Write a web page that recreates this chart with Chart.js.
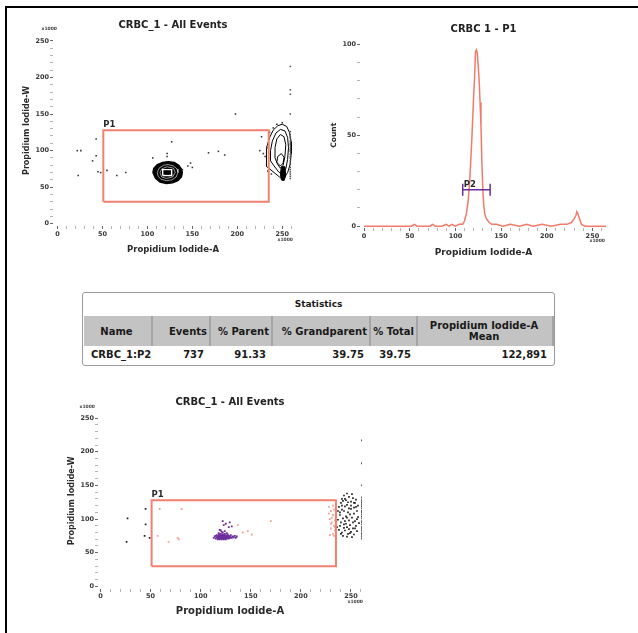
<!DOCTYPE html>
<html>
<head>
<meta charset="utf-8">
<script src="https://cdn.jsdelivr.net/npm/chart.js@4.4.1/dist/chart.umd.min.js"></script>
<style>
  html, body { margin: 0; padding: 0; background: #fff; }
  body { width: 638px; height: 633px; position: relative; overflow: hidden; font-family: 'DejaVu Sans', sans-serif; }
  #frame { position: absolute; left: 5px; top: 6px; width: 700px; height: 700px; border-left: 2px solid #000; border-top: 2px solid #000; }
  canvas { position: absolute; }
  #stats { position: absolute; left: 82px; top: 292px; width: 471px; height: 72px; border: 1px solid #9c9c9c; border-radius: 3px; background: #fff; color: #1a1a1a; font-weight: bold; }
  #stats .cap { height: 23px; line-height: 22px; text-align: center; font-size: 9px; }
  #stats table { border-collapse: collapse; table-layout: fixed; width: 469px; margin-left: 1px; }
  #stats th { background: #c3c3c3; height: 30px; font-size: 10px; line-height: 11px; border-right: 2px solid #a5a5a5; padding: 0 2px 0 0; text-align: right; white-space: nowrap; }
  #stats th.name { text-align: center; }
  #stats th.last { text-align: center; }
  #stats td { height: 17px; font-size: 10px; text-align: right; padding: 0 6px 0 0; white-space: nowrap; }
  #stats td.name { text-align: left; padding-left: 7px; }
</style>
</head>
<body>
<div id="frame"></div>
<canvas id="dotPlot" style="left:15px;top:12px" width="290" height="248"></canvas>
<canvas id="histPlot" style="left:325px;top:12px" width="295" height="248"></canvas>
<div id="stats"></div>
<canvas id="gatedPlot" style="left:60px;top:392px" width="315" height="232"></canvas>
<script>
const axisTicks = [0, 10, 20, 30, 40, 50, 60, 70, 80, 90, 100, 110, 120, 130, 140, 150, 160, 170, 180, 190, 200, 210, 220, 230, 240, 250, 260];
const axisLabels = [0, 50, 100, 150, 200, 250];
const countTicks = [0, 10, 20, 30, 40, 50, 60, 70, 80, 90, 100];
const countLabels = [0, 50, 100];

// Gates
const p1Gate = { xMin: 51, xMax: 235, yMin: 30, yMax: 128 };
const p2Gate = { xMin: 108, xMax: 138, level: 20 };

// Histogramm CRBC 1 - P1
const histX = [0, 20, 40, 52, 55, 58, 65, 72, 75, 78, 85, 90, 93, 96, 100, 104, 106, 108, 110, 112, 114, 116, 118, 119, 120, 121, 122, 123, 124, 125, 126, 127, 128, 129, 130, 131, 132, 134, 137, 140, 145, 152, 160, 170, 178, 185, 195, 205, 215, 222, 227, 230, 232, 233, 234, 236, 238, 242, 250, 265];
const histCount = [0, 0, 0, 0, 1, 0, 0, 0, 1, 0, 0, 1, 0, 1, 0, 1, 1, 1, 3, 7, 14, 28, 48, 60, 72, 82, 96, 97, 95, 88, 80, 68, 55, 35, 20, 12, 7, 4, 2, 1, 1, 0, 1, 0, 1, 0, 1, 0, 1, 1, 2, 4, 6, 8, 7, 4, 1, 0, 0, 0];

// Dot plot (oben links): Einzelereignisse
const dotOutliers = [[22, 100], [26, 100], [23, 66], [43, 116], [39, 86], [43, 93], [45, 71], [48, 70], [55, 73], [66, 66], [76, 70], [106, 90], [122, 96], [122, 92], [127, 112], [139, 74], [145, 79], [148, 83], [150, 77], [168, 97], [179, 99], [186, 94], [198, 150], [227, 119], [225, 100], [229, 96], [231, 92], [233, 104], [236, 125], [240, 131], [244, 136], [250, 138], [234, 72], [238, 68]];
const dotEdgeY = [62, 65, 68, 71, 74, 77, 81, 83, 86, 90, 92, 95, 99, 101, 104, 108, 110, 113, 117, 119, 122, 126, 150, 177, 183, 215];
const dotEdgeX = 259;

// Konturen
const coreBlob = [[106, 70], [107, 76], [111, 81], [117, 84], [123, 85], [130, 84], [135, 80], [138, 75], [139, 70], [138, 64], [134, 59], [128, 56], [121, 55], [114, 57], [109, 62], [106, 70]];
const coreRingA = [[111, 70], [113, 76], [118, 80], [123, 81], [129, 79], [133, 75], [134, 70], [132, 64], [127, 60], [121, 59], [115, 61], [112, 65], [111, 70]];
const coreRingB = [[114, 70], [116, 75], [122, 78], [129, 76], [131, 70], [128, 64], [121, 62], [116, 64], [114, 70]];
const coreBox = [[117, 66], [117, 74], [127, 74], [127, 66], [117, 66]];
const coreDot = [[120, 68], [120, 72], [124, 72], [124, 68], [120, 68]];
const edgeC1 = [[233, 78], [232, 90], [233, 104], [236, 118], [240, 128], [245, 134], [250, 136], [255, 133], [258, 125], [260, 112], [260, 96], [259, 82], [256, 70], [252, 63], [247, 64], [241, 70], [236, 75], [233, 78]];
const edgeC2 = [[237, 86], [237, 100], [239, 113], [243, 124], [248, 129], [253, 127], [256, 118], [257, 104], [256, 88], [254, 75], [250, 68], [246, 71], [241, 79], [237, 86]];
const edgeC3 = [[242, 90], [242, 104], [244, 116], [248, 122], [252, 119], [254, 108], [253, 92], [251, 80], [248, 76], [245, 81], [242, 90]];
const edgeC4 = [[244, 84], [245, 92], [249, 96], [252, 91], [251, 83], [248, 79], [244, 84]];
const edgeTail = [[249, 78], [253, 78], [254, 66], [252, 59], [249, 60], [248, 68], [249, 78]];

// Gated plot (unten): schwarz = ausserhalb P1, rosa = P1, violett = P2
const gatedBlack = [[27, 101], [26, 66], [45, 115], [45, 92], [44, 75], [49, 72],
  [238, 118], [240, 124], [241, 130], [243, 135], [245, 128], [246, 121], [248, 133], [250, 126], [252, 131], [254, 124], [255, 118], [243, 112], [247, 110], [250, 115], [253, 108], [256, 112], [239, 106], [242, 101], [245, 104], [248, 98], [251, 102], [254, 97], [257, 103], [240, 95], [243, 92], [246, 88], [249, 91], [252, 86], [255, 90], [238, 84], [241, 80], [244, 83], [247, 78], [250, 81], [253, 77], [256, 82], [242, 75], [246, 74], [251, 73], [239, 90], [244, 97], [249, 107], [253, 117], [247, 125], [244, 119], [241, 114], [237, 99], [236, 88], [258, 94], [257, 120], [255, 129], [251, 137], [246, 138], [242, 127], [239, 110], [248, 85], [245, 93], [252, 95], [250, 120], [254, 86], [243, 87], [240, 78], [248, 116], [246, 102], [237, 112], [244, 130], [249, 79], [256, 100], [253, 124], [241, 120]];
const gatedEdgeY = [71, 74, 77, 79, 83, 86, 88, 92, 95, 97, 101, 104, 107, 110, 112, 116, 119, 122, 125, 128, 132, 150, 183, 217];
const gatedEdgeX = 261;
const gatedP1 = [[57, 75], [59, 115], [68, 66], [77, 72], [78, 70], [81, 115], [137, 91], [142, 80], [147, 82], [151, 77], [170, 97],
  [228, 118], [230, 112], [232, 106], [229, 100], [231, 95], [233, 90], [230, 86], [234, 83], [232, 78], [229, 76], [231, 102], [233, 114], [234, 98], [230, 93], [228, 108], [232, 120], [234, 88], [233, 75]];
const gatedP2 = [[113, 72], [114, 74], [115, 71], [115, 75], [116, 73], [116, 76], [117, 70], [117, 72], [117, 74], [118, 71], [118, 73], [118, 75], [118, 77], [119, 70], [119, 72], [119, 74], [119, 76], [120, 71], [120, 73], [120, 75], [120, 78], [121, 70], [121, 72], [121, 74], [121, 76], [122, 71], [122, 73], [122, 75], [122, 77], [122, 80], [123, 70], [123, 72], [123, 74], [123, 76], [124, 71], [124, 73], [124, 75], [124, 78], [125, 70], [125, 72], [125, 74], [125, 76], [126, 71], [126, 73], [126, 75], [127, 72], [127, 74], [127, 77], [128, 71], [128, 73], [128, 75], [129, 72], [129, 74], [130, 73], [130, 76], [131, 72], [132, 74], [133, 73], [134, 75], [135, 72], [136, 74], [118, 79], [121, 81], [126, 79], [120, 83], [124, 82],
  [122, 97], [123, 91], [129, 95], [128, 88], [119, 84], [131, 89], [125, 93]];

// Statistik-Tabelle
const statHeaders = ['Name', 'Events', '% Parent', '% Grandparent', '% Total', 'Propidium Iodide-A Mean'];
const statRow = ['CRBC_1:P2', '737', '91.33', '39.75', '39.75', '122,891'];
const statWidths = [68, 58, 62, 98, 47, 136];

const GATE_RED = '#f2806f';
const PURPLE = '#6c2e9b';

Chart.defaults.font.family = "'DejaVu Sans', sans-serif";
Chart.defaults.animation = false;

function toPts(arr) {
  return arr.map(p => ({ x: p[0], y: p[1] }));
}

function gateRect(g) {
  return [{ x: g.xMin, y: g.yMin }, { x: g.xMin, y: g.yMax }, { x: g.xMax, y: g.yMax }, { x: g.xMax, y: g.yMin }, { x: g.xMin, y: g.yMin }];
}

function flowAxis(o) {
  return {
    type: 'linear',
    min: o.min,
    max: o.max,
    afterBuildTicks: s => { s.ticks = o.ticks.map(v => ({ value: v })); },
    afterFit: s => { if (o.horizontal) s.height = o.size; else s.width = o.size; },
    border: { display: false },
    grid: {
      drawOnChartArea: false,
      tickLength: 3,
      tickWidth: 1,
      tickColor: c => (c.tick && o.labels.includes(c.tick.value)) ? '#666' : '#b5b5b5'
    },
    ticks: {
      autoSkip: false,
      maxRotation: 0,
      padding: o.tickPad,
      color: '#3a3a3a',
      font: { size: 6.5, weight: 'bold' },
      callback: v => o.labels.includes(v) ? String(v) : ''
    },
    title: {
      display: true,
      text: o.title,
      color: '#2a2a2a',
      font: { size: o.titleSize, weight: 'bold' },
      padding: o.titlePad
    }
  };
}

// kleines "x1000" an den Achsenenden
const x1000Plugin = {
  id: 'x1000',
  afterDraw(chart, args, opts) {
    const { ctx, chartArea } = chart;
    ctx.save();
    ctx.font = "bold 4.5px 'DejaVu Sans'";
    ctx.fillStyle = '#444';
    ctx.textAlign = 'right';
    if (opts.y) ctx.fillText('x1000', chartArea.left + opts.y.dx, chartArea.top + opts.y.dy);
    if (opts.x) ctx.fillText('x1000', chartArea.right + opts.x.dx, chartArea.bottom + opts.x.dy);
    ctx.restore();
  }
};

// Gate-Beschriftungen (P1, P2)
const gateLabelPlugin = {
  id: 'gateLabels',
  afterDatasetsDraw(chart, args, opts) {
    const { ctx, scales } = chart;
    ctx.save();
    ctx.font = "bold 8.5px 'DejaVu Sans'";
    ctx.fillStyle = '#2a2a2a';
    ctx.textAlign = 'left';
    (opts.items || []).forEach(it => {
      ctx.fillText(it.text, scales.x.getPixelForValue(it.x) + it.dx, scales.y.getPixelForValue(it.y) + it.dy);
    });
    ctx.restore();
  }
};

function lineSet(arr, color, width, extra) {
  return Object.assign({ data: toPts(arr), showLine: true, borderColor: color, borderWidth: width, pointRadius: 0, fill: false, tension: 0 }, extra || {});
}

function dotSet(arr, color, r) {
  return { data: toPts(arr), showLine: false, pointStyle: 'rect', pointRadius: r, backgroundColor: color, borderWidth: 0 };
}

// Dot plot CRBC_1 - All Events (Konturen)
new Chart(document.getElementById('dotPlot'), {
  type: 'scatter',
  data: {
    datasets: [
      { data: gateRect(p1Gate), showLine: true, borderColor: GATE_RED, borderWidth: 2, pointRadius: 0, fill: false },
      dotSet(dotOutliers, '#333', 1.1),
      dotSet(dotEdgeY.map(y => [dotEdgeX, y]), '#555', 1.1),
      lineSet(coreDot, '#000', 1, { fill: 'shape', backgroundColor: '#000' }),
      lineSet(coreBox, '#fff', 1.4),
      lineSet(coreRingB, '#fff', 0.6),
      lineSet(coreRingA, '#fff', 0.6),
      lineSet(coreBlob, '#000', 1.2, { fill: 'shape', backgroundColor: '#000' }),
      lineSet(edgeC4, '#000', 1),
      lineSet(edgeC3, '#000', 1),
      lineSet(edgeC2, '#000', 1),
      lineSet(edgeC1, '#000', 1),
      lineSet(edgeTail, '#000', 1, { fill: 'shape', backgroundColor: '#000' })
    ]
  },
  options: {
    responsive: false,
    events: [],
    layout: { padding: { left: 0, right: 12, top: 0, bottom: 0 } },
    plugins: {
      legend: { display: false },
      tooltip: { enabled: false },
      title: { display: true, fullSize: false, text: 'CRBC_1 - All Events', color: '#222', font: { size: 10, weight: 'bold', lineHeight: 1.2 }, padding: { top: 7, bottom: 4 } },
      x1000: { y: { dx: 4, dy: -5 }, x: { dx: 0, dy: 15 } },
      gateLabels: { items: [{ text: 'P1', x: p1Gate.xMin, y: p1Gate.yMax, dx: 0, dy: -3 }] }
    },
    scales: {
      x: flowAxis({ horizontal: true, min: -5, max: 262, ticks: axisTicks, labels: axisLabels, size: 34, tickPad: 1, title: 'Propidium Iodide-A', titleSize: 8.5, titlePad: { top: 0, bottom: 5 } }),
      y: flowAxis({ horizontal: false, min: -3, max: 258, ticks: axisTicks.filter(v => v <= 250), labels: axisLabels, size: 38, tickPad: 1, title: 'Propidium Iodide-W', titleSize: 8, titlePad: { top: 7, bottom: 0 } })
    }
  },
  plugins: [x1000Plugin, gateLabelPlugin]
});

// Histogramm CRBC 1 - P1
new Chart(document.getElementById('histPlot'), {
  type: 'line',
  data: {
    datasets: [
      {
        data: [{ x: p2Gate.xMin, y: p2Gate.level }, { x: p2Gate.xMax, y: p2Gate.level }],
        borderColor: PURPLE, borderWidth: 1.5, pointStyle: 'line', rotation: 90, pointRadius: 6,
        pointBorderColor: PURPLE, pointBorderWidth: 1.5, fill: false
      },
      {
        data: histX.map((x, i) => ({ x: x, y: histCount[i] })),
        borderColor: '#f27a6a', borderWidth: 1.5, pointRadius: 0, tension: 0, fill: false
      }
    ]
  },
  options: {
    responsive: false,
    events: [],
    layout: { padding: { left: 0, right: 13, top: 0, bottom: 0 } },
    plugins: {
      legend: { display: false },
      tooltip: { enabled: false },
      title: { display: true, fullSize: false, text: 'CRBC 1 - P1', color: '#222', font: { size: 10, weight: 'bold', lineHeight: 1.2 }, padding: { top: 11, bottom: 7.5 } },
      x1000: { x: { dx: -2, dy: 14 } },
      gateLabels: { items: [{ text: 'P2', x: p2Gate.xMin, y: p2Gate.level, dx: 1, dy: -3 }] }
    },
    scales: {
      x: flowAxis({ horizontal: true, min: -4.5, max: 266, ticks: axisTicks, labels: axisLabels, size: 32, tickPad: 1, title: 'Propidium Iodide-A', titleSize: 9, titlePad: { top: 0, bottom: 2 } }),
      y: flowAxis({ horizontal: false, min: -1, max: 101, ticks: countTicks, labels: countLabels, size: 35, tickPad: 1, title: 'Count', titleSize: 7.5, titlePad: { top: 5, bottom: 0 } })
    }
  },
  plugins: [x1000Plugin, gateLabelPlugin]
});

// Gated dot plot CRBC_1 - All Events
new Chart(document.getElementById('gatedPlot'), {
  type: 'scatter',
  data: {
    datasets: [
      { data: gateRect(p1Gate), showLine: true, borderColor: GATE_RED, borderWidth: 2, pointRadius: 0, fill: false },
      dotSet(gatedP2, PURPLE, 1.3),
      dotSet(gatedP1, '#f6a398', 1.3),
      dotSet(gatedBlack, '#222', 1.2),
      dotSet(gatedEdgeY.map(y => [gatedEdgeX, y]), '#555', 1.3)
    ]
  },
  options: {
    responsive: false,
    events: [],
    layout: { padding: { left: 0, right: 13, top: 0, bottom: 0 } },
    plugins: {
      legend: { display: false },
      tooltip: { enabled: false },
      title: { display: true, fullSize: false, text: 'CRBC_1 - All Events', color: '#222', font: { size: 10, weight: 'bold', lineHeight: 1.2 }, padding: { top: 4.7, bottom: 4.1 } },
      x1000: { y: { dx: -3, dy: -5 }, x: { dx: 1, dy: 14 } },
      gateLabels: { items: [{ text: 'P1', x: p1Gate.xMin, y: p1Gate.yMax, dx: 0, dy: -3 }] }
    },
    scales: {
      x: flowAxis({ horizontal: true, min: -2.5, max: 261, ticks: axisTicks, labels: axisLabels, size: 35, tickPad: 0, title: 'Propidium Iodide-A', titleSize: 10, titlePad: { top: 0, bottom: 6.5 } }),
      y: flowAxis({ horizontal: false, min: -4, max: 258, ticks: axisTicks.filter(v => v <= 250), labels: axisLabels, size: 38, tickPad: 1, title: 'Propidium Iodide-W', titleSize: 8, titlePad: { top: 7, bottom: 0 } })
    }
  },
  plugins: [x1000Plugin, gateLabelPlugin]
});

// Statistik-Tabelle aufbauen
function buildStats() {
  const box = document.getElementById('stats');
  let html = '<div class="cap">Statistics</div><table><colgroup>';
  statWidths.forEach(w => { html += '<col style="width:' + w + 'px">'; });
  html += '</colgroup><tr>';
  statHeaders.forEach((h, i) => {
    const cls = i === 0 ? 'name' : (i === statHeaders.length - 1 ? 'last' : '');
    const txt = i === statHeaders.length - 1 ? h.replace(' Mean', '<br>Mean') : h;
    html += '<th class="' + cls + '">' + txt + '</th>';
  });
  html += '</tr><tr>';
  statRow.forEach((v, i) => {
    html += '<td class="' + (i === 0 ? 'name' : '') + '">' + v + '</td>';
  });
  html += '</tr></table>';
  box.innerHTML = html;
}
buildStats();
</script>
</body>
</html>
